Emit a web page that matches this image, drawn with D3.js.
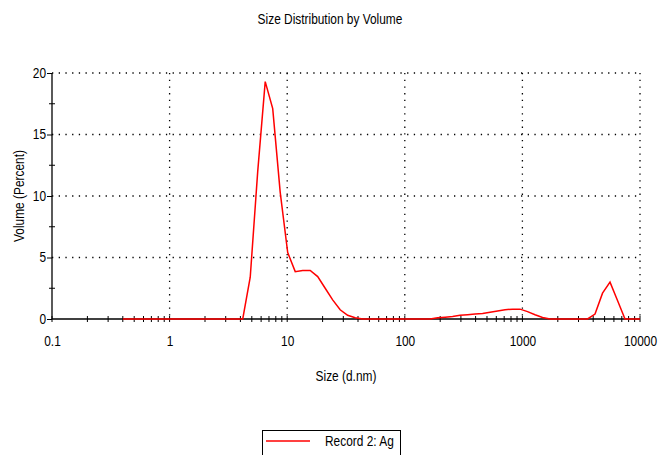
<!DOCTYPE html>
<html><head><meta charset="utf-8">
<script src="https://cdn.jsdelivr.net/npm/d3@7"></script>
<style>
body{margin:0;background:#fff;}
text{font-family:"Liberation Sans",Arial,sans-serif;fill:#000;}
</style></head>
<body><svg id="c" width="659" height="455"></svg>
<script>
const sizes = [0.4,0.4632,0.5365,0.6213,0.7195,0.8332,0.9649,1.117,1.294,1.499,1.736,2.01,2.328,2.696,3.122,3.615,4.187,4.849,5.615,6.503,7.531,8.721,10.1,11.7,13.54,15.69,18.17,21.04,24.36,28.21,32.67,37.84,43.82,50.75,58.77,68.06,78.82,91.28,105.7,122.4,141.8,164.2,190.1,220.2,255.0,295.3,342.0,396.1,458.7,531.2,615.1,712.4,825.0,955.4,1106,1281,1484,1718,1990,2305,2669,3091,3580,4145,4801,5560,6439,7456,8635,10000];
const volume = [0,0,0,0,0,0,0,0,0,0,0,0,0,0,0,0,0,3.4,12.0,19.3,17.1,10.3,5.4,3.85,3.95,3.95,3.45,2.5,1.55,0.75,0.3,0.1,0,0,0,0,0,0,0,0,0,0,0.1,0.15,0.2,0.3,0.35,0.4,0.45,0.55,0.65,0.75,0.8,0.8,0.6,0.35,0.12,0,0,0,0,0,0,0.4,2.1,3.0,1.5,0,0,0];
const xTicks = [0.1,1,10,100,1000,10000];
const xTickLabels = ["0.1","1","10","100","1000","10000"];
const yTicks = [0,5,10,15,20];
const yMinor = [2.5,7.5,12.5,17.5];
const title = "Size Distribution by Volume";
const xTitle = "Size (d.nm)";
const yTitle = "Volume (Percent)";
const seriesName = "Record 2: Ag";

const svg = d3.select("#c");
const L=52,R=640,T=73,B=319;
const SX=0.85, FS=14;
const x = d3.scaleLog().domain([0.1,10000]).range([L,R]);
const y = d3.scaleLinear().domain([0,20]).range([B,T]);

// gridlines
const g = svg.append("g");
g.selectAll("line.h").data(yTicks.filter(d=>d>0)).join("line")
 .attr("x1",L).attr("x2",R).attr("y1",d=>y(d)).attr("y2",d=>y(d))
 .attr("stroke","#000").attr("stroke-width",1.3).attr("stroke-dasharray","1.3,5.4");
g.selectAll("line.v").data(xTicks.filter(d=>d>0.1)).join("line")
 .attr("x1",d=>x(d)).attr("x2",d=>x(d)).attr("y1",T).attr("y2",B)
 .attr("stroke","#000").attr("stroke-width",1.3).attr("stroke-dasharray","1.3,5.4");

// x minor ticks
const minor=[];
for(let dec=0.1;dec<10000;dec*=10){for(let k=2;k<=9;k++)minor.push(+(dec*k).toPrecision(3));}
svg.append("g").selectAll("line").data(minor.concat(xTicks)).join("line")
 .attr("x1",d=>x(d)).attr("x2",d=>x(d)).attr("y1",B-3).attr("y2",B+3)
 .attr("stroke","#000").attr("stroke-width",1);

// y axis
const yAxis = d3.axisLeft(y).tickValues(yTicks).tickSize(5).tickFormat(d3.format("d"));
const ya = svg.append("g").attr("transform",`translate(${L},0)`).call(yAxis);
ya.select(".domain").attr("stroke","#000").attr("stroke-width",1.3).attr("d",`M0,${T}V${B}`);
ya.selectAll("text").attr("font-size",FS).attr("x",-6/SX).attr("transform",`scale(${SX},1)`).style("font-family","Liberation Sans");
svg.append("g").selectAll("line").data(yMinor).join("line")
 .attr("x1",L-3).attr("x2",L+3).attr("y1",d=>y(d)).attr("y2",d=>y(d)).attr("stroke","#000");

// x axis
const xAxis = d3.axisBottom(x).tickValues(xTicks).tickSize(0).tickFormat((d,i)=>xTickLabels[i]);
const xa = svg.append("g").attr("transform",`translate(0,${B})`).call(xAxis);
xa.select(".domain").attr("stroke","#000").attr("stroke-width",1.3).attr("d",`M${L},0H${R}`);
xa.selectAll("text").attr("font-size",FS).attr("y",17).attr("transform",`scale(${SX},1)`).style("font-family","Liberation Sans");

// line
const line = d3.line().x((d,i)=>x(sizes[i])).y(d=>y(d));
svg.append("path").datum(volume).attr("d",line).attr("fill","none")
 .attr("stroke","#ff0000").attr("stroke-width",1.5);

function txt(px,py,s,anchor,rot){
  const t = svg.append("text").attr("transform",`translate(${px},${py})${rot?" rotate(-90)":""} scale(${SX},1)`)
   .attr("text-anchor",anchor).attr("font-size",FS).text(s);
  return t;
}
// titles
txt(330,24,title,"middle");
txt(346,381,xTitle,"middle");
txt(24,196,yTitle,"middle",true);

// legend
svg.append("rect").attr("x",262.5).attr("y",430.5).attr("width",138).attr("height",30)
 .attr("fill","#fff").attr("stroke","#000").attr("stroke-width",1);
svg.append("line").attr("x1",266).attr("x2",310).attr("y1",441).attr("y2",441).attr("stroke","#ff0000").attr("stroke-width",1.5);
txt(325,446,seriesName,"start");
</script></body></html>
